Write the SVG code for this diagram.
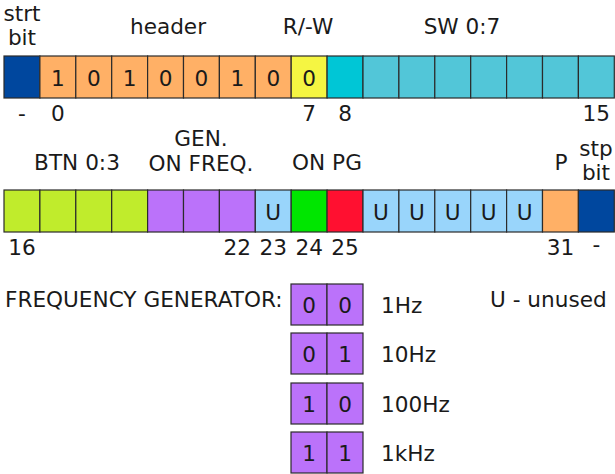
<svg xmlns="http://www.w3.org/2000/svg" width="615" height="474" viewBox="0 0 615 474">
  <style>
    text { font-family: "DejaVu Sans", sans-serif; font-size: 21.6px; fill: #1a1a1a; }
    .c { text-anchor: middle; }
    .cell { stroke: #2b2b2b; stroke-width: 1.2; }
    .sb { fill: #00479e; }
    .hd { fill: #ffb066; }
    .rw { fill: #f5f542; }
    .sw0 { fill: #00c6d6; }
    .sw { fill: #52c6d8; }
    .btn { fill: #c0ec2c; }
    .frq { fill: #bb72fa; }
    .un { fill: #99d5fb; }
    .on { fill: #00e600; }
    .pg { fill: #ff1030; }
  </style>
  <rect width="615" height="474" fill="#ffffff"/>

  <!-- first word: bits 0..15 -->
  <g id="word1">
    <g id="w1-cells">
      <rect class="cell sb" x="4" y="56" width="35.9" height="42"/>
      <rect class="cell hd" x="39.9" y="56" width="35.9" height="42"/>
      <rect class="cell hd" x="75.8" y="56" width="35.9" height="42"/>
      <rect class="cell hd" x="111.7" y="56" width="35.9" height="42"/>
      <rect class="cell hd" x="147.6" y="56" width="35.9" height="42"/>
      <rect class="cell hd" x="183.5" y="56" width="35.9" height="42"/>
      <rect class="cell hd" x="219.4" y="56" width="35.9" height="42"/>
      <rect class="cell hd" x="255.3" y="56" width="35.9" height="42"/>
      <rect class="cell rw" x="291.2" y="56" width="35.9" height="42"/>
      <rect class="cell sw0" x="327.1" y="56" width="35.9" height="42"/>
      <rect class="cell sw" x="363" y="56" width="35.9" height="42"/>
      <rect class="cell sw" x="398.9" y="56" width="35.9" height="42"/>
      <rect class="cell sw" x="434.8" y="56" width="35.9" height="42"/>
      <rect class="cell sw" x="470.7" y="56" width="35.9" height="42"/>
      <rect class="cell sw" x="506.6" y="56" width="35.9" height="42"/>
      <rect class="cell sw" x="542.5" y="56" width="35.9" height="42"/>
      <rect class="cell sw" x="578.4" y="56" width="35.9" height="42"/>
    </g>
    <g id="w1-values">
      <text class="c" x="57.85" y="86">1</text>
      <text class="c" x="93.75" y="86">0</text>
      <text class="c" x="129.65" y="86">1</text>
      <text class="c" x="165.55" y="86">0</text>
      <text class="c" x="201.45" y="86">0</text>
      <text class="c" x="237.35" y="86">1</text>
      <text class="c" x="273.25" y="86">0</text>
      <text class="c" x="309.15" y="86">0</text>
    </g>
    <g id="w1-titles">
      <text class="c" x="22" y="21">strt</text>
      <text class="c" x="22" y="45">bit</text>
      <text class="c" x="168" y="34">header</text>
      <text class="c" x="308" y="34">R/-W</text>
      <text class="c" x="462" y="34">SW 0:7</text>
    </g>
    <g id="w1-index">
      <text class="c" x="22" y="121">-</text>
      <text class="c" x="57.85" y="121">0</text>
      <text class="c" x="309.15" y="121">7</text>
      <text class="c" x="345.05" y="121">8</text>
      <text class="c" x="596.35" y="121">15</text>
    </g>
  </g>

  <!-- second word: bits 16..31 -->
  <g id="word2">
    <g id="w2-cells">
      <rect class="cell btn" x="4" y="190" width="35.9" height="42"/>
      <rect class="cell btn" x="39.9" y="190" width="35.9" height="42"/>
      <rect class="cell btn" x="75.8" y="190" width="35.9" height="42"/>
      <rect class="cell btn" x="111.7" y="190" width="35.9" height="42"/>
      <rect class="cell frq" x="147.6" y="190" width="35.9" height="42"/>
      <rect class="cell frq" x="183.5" y="190" width="35.9" height="42"/>
      <rect class="cell frq" x="219.4" y="190" width="35.9" height="42"/>
      <rect class="cell un" x="255.3" y="190" width="35.9" height="42"/>
      <rect class="cell on" x="291.2" y="190" width="35.9" height="42"/>
      <rect class="cell pg" x="327.1" y="190" width="35.9" height="42"/>
      <rect class="cell un" x="363" y="190" width="35.9" height="42"/>
      <rect class="cell un" x="398.9" y="190" width="35.9" height="42"/>
      <rect class="cell un" x="434.8" y="190" width="35.9" height="42"/>
      <rect class="cell un" x="470.7" y="190" width="35.9" height="42"/>
      <rect class="cell un" x="506.6" y="190" width="35.9" height="42"/>
      <rect class="cell hd" x="542.5" y="190" width="35.9" height="42"/>
      <rect class="cell sb" x="578.4" y="190" width="35.9" height="42"/>
    </g>
    <g id="w2-values">
      <text class="c" x="273.25" y="220">U</text>
      <text class="c" x="380.95" y="220">U</text>
      <text class="c" x="416.85" y="220">U</text>
      <text class="c" x="452.75" y="220">U</text>
      <text class="c" x="488.65" y="220">U</text>
      <text class="c" x="524.55" y="220">U</text>
    </g>
    <g id="w2-titles">
      <text class="c" x="77" y="170">BTN 0:3</text>
      <text class="c" x="201" y="146">GEN.</text>
      <text class="c" x="201" y="171">ON FREQ.</text>
      <text class="c" x="327" y="170">ON PG</text>
      <text class="c" x="561" y="170">P</text>
      <text class="c" x="596" y="156">stp</text>
      <text class="c" x="596" y="180">bit</text>
    </g>
    <g id="w2-index">
      <text class="c" x="21.95" y="255">16</text>
      <text class="c" x="237.35" y="255">22</text>
      <text class="c" x="273.25" y="255">23</text>
      <text class="c" x="309.15" y="255">24</text>
      <text class="c" x="345.05" y="255">25</text>
      <text class="c" x="560.45" y="255">31</text>
      <text class="c" x="596.35" y="252">-</text>
    </g>
  </g>

  <!-- frequency generator code table -->
  <g id="freq-table">
    <text x="5" y="307">FREQUENCY GENERATOR:</text>
    <text x="490" y="307">U - unused</text>
    <g id="f-1hz">
      <rect class="cell frq" x="291" y="284" width="36" height="41"/>
      <rect class="cell frq" x="327" y="284" width="36" height="41"/>
      <text class="c" x="309" y="313">0</text>
      <text class="c" x="345" y="313">0</text>
      <text x="381" y="313">1Hz</text>
    </g>
    <g id="f-10hz">
      <rect class="cell frq" x="291" y="333" width="36" height="41"/>
      <rect class="cell frq" x="327" y="333" width="36" height="41"/>
      <text class="c" x="309" y="362">0</text>
      <text class="c" x="345" y="362">1</text>
      <text x="381" y="362">10Hz</text>
    </g>
    <g id="f-100hz">
      <rect class="cell frq" x="291" y="383" width="36" height="41"/>
      <rect class="cell frq" x="327" y="383" width="36" height="41"/>
      <text class="c" x="309" y="412">1</text>
      <text class="c" x="345" y="412">0</text>
      <text x="381" y="412">100Hz</text>
    </g>
    <g id="f-1khz">
      <rect class="cell frq" x="291" y="432" width="36" height="41"/>
      <rect class="cell frq" x="327" y="432" width="36" height="41"/>
      <text class="c" x="309" y="461">1</text>
      <text class="c" x="345" y="461">1</text>
      <text x="381" y="461">1kHz</text>
    </g>
  </g>
</svg>
